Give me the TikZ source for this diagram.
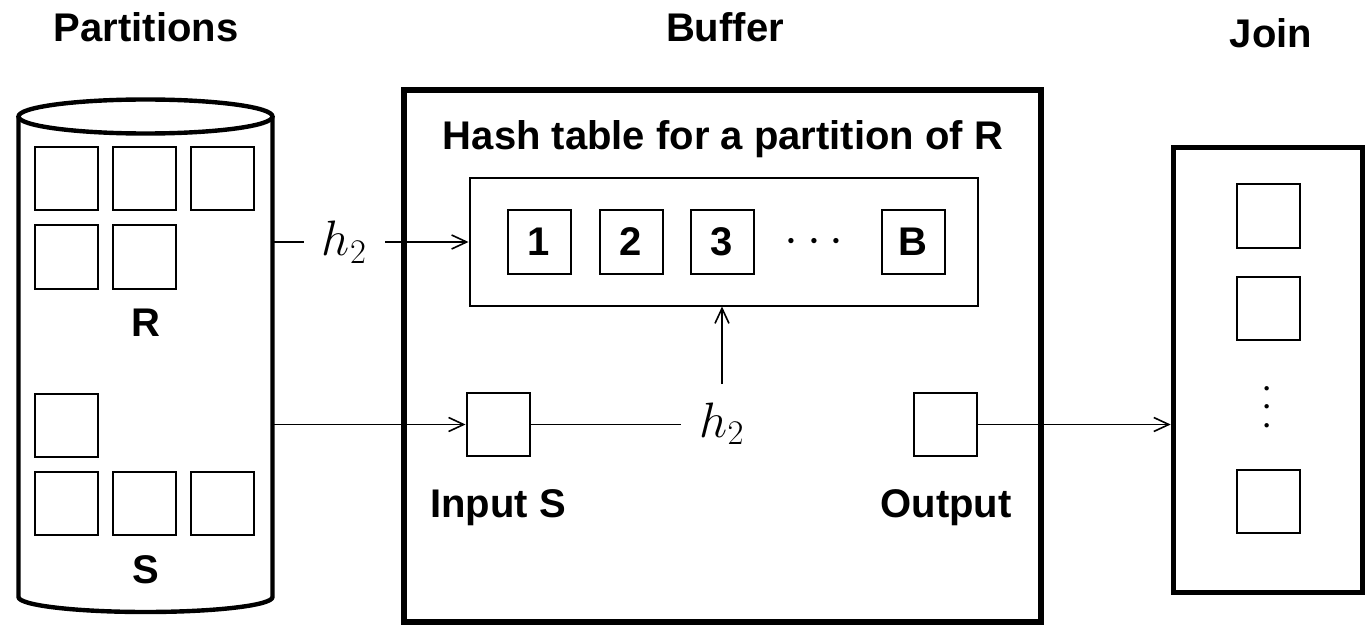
\documentclass[tikz,border=0pt]{standalone}
\usepackage{fontspec}
\setmainfont{Liberation Sans}
\usepackage{tikz}
\usetikzlibrary{arrows.meta,positioning}

\begin{document}
\begin{tikzpicture}[x=0.5pt, y=-0.5pt,
    cell/.style={draw, line width=1pt, minimum size=31.5pt, inner sep=0pt,
      font=\fontsize{20}{24}\selectfont\bfseries},
    lbl/.style={font=\fontsize{20}{24}\selectfont\bfseries},
    hlab/.style={font=\fontsize{25}{30}\selectfont, fill=white, inner sep=9pt},
    arr/.style={-{Straight Barb[length=7.5pt,width=7pt]}, line width=0.8pt}]
  \useasboundingbox (0,0) rectangle (1372,626);

  % titles
  \node[lbl, anchor=base] (tpart) at (146,42) {Partitions};
  \node[lbl, anchor=base] (tbuf) at (725,42) {Buffer};
  \node[lbl, anchor=base] (tjoin) at (1271,48) {Join};

  % partitions on disk
  \draw[line width=2.2pt] (145.5,116.5) ellipse [x radius=127, y radius=17];
  \draw[line width=2.2pt] (18.5,116.5) -- (18.5,597)
    arc [start angle=180, delta angle=-180, x radius=127, y radius=15] -- (272.5,116.5);
  \foreach \n/\x/\y in {1/66/178.5, 2/144.5/178.5, 3/222.5/178.5, 4/66/257, 5/144.5/257}
    \node[cell] (r\n) at (\x,\y) {};
  \node[lbl] (rlab) at (145.5,323) {R};
  \foreach \n/\x/\y in {1/66/425, 2/66/503.5, 3/144.5/503.5, 4/222.5/503.5}
    \node[cell] (s\n) at (\x,\y) {};
  \node[lbl] (slab) at (145.5,570) {S};
  \coordinate (rout) at (272.5,242);
  \coordinate (sout) at (272.5,424.5);

  % buffer
  \node[draw, line width=3pt, minimum width=318.75pt, minimum height=266pt] (buffer) at (722.25,356) {};
  \node[lbl, anchor=base] (htitle) at (723,150) {Hash table for a partition of R};
  \node[draw, line width=1pt, minimum width=254pt, minimum height=63.5pt] (hash) at (723.5,242) {};
  \node[cell] (b1) at (539,242) {1};
  \node[cell] (b2) at (631,242) {2};
  \node[cell] (b3) at (722,242) {3};
  \node[font=\fontsize{25}{30}\selectfont] (hdots) at (814,242) {$\cdots$};
  \node[cell] (bB) at (913,242) {B};
  \node[cell] (ins) at (498,424.5) {};
  \node[lbl, anchor=base] (inlab) at (498,517) {Input S};
  \node[cell] (outp) at (945,424.5) {};
  \node[lbl, anchor=base] (outlab) at (946,517) {Output};
  \node[hlab, anchor=base] (hmid) at (722,437) {$h_2$};

  % join
  \node[draw, line width=2.8pt, minimum width=94.5pt, minimum height=222.5pt] (join) at (1268,370) {};
  \node[cell] (j1) at (1268,216) {};
  \node[cell] (j2) at (1268,308) {};
  \node[font=\fontsize{21}{25}\selectfont, rotate=90] (jdots) at (1268,407) {$\cdots$};
  \node[cell] (j3) at (1268,501) {};

  % connectors
  \draw[arr] (rout) -- node[hlab, pos=0.367] (htop) {$h_2$} (hash.west);
  \draw[arr] (sout) -- (ins.west);
  \draw[line width=0.8pt] (ins.east) -- (ins.east -| hmid.west);
  \draw[arr] (hmid.north) -- (hmid.north |- hash.south);
  \draw[arr] (outp.east) -- (outp.east -| join.west);
\end{tikzpicture}
\end{document}
